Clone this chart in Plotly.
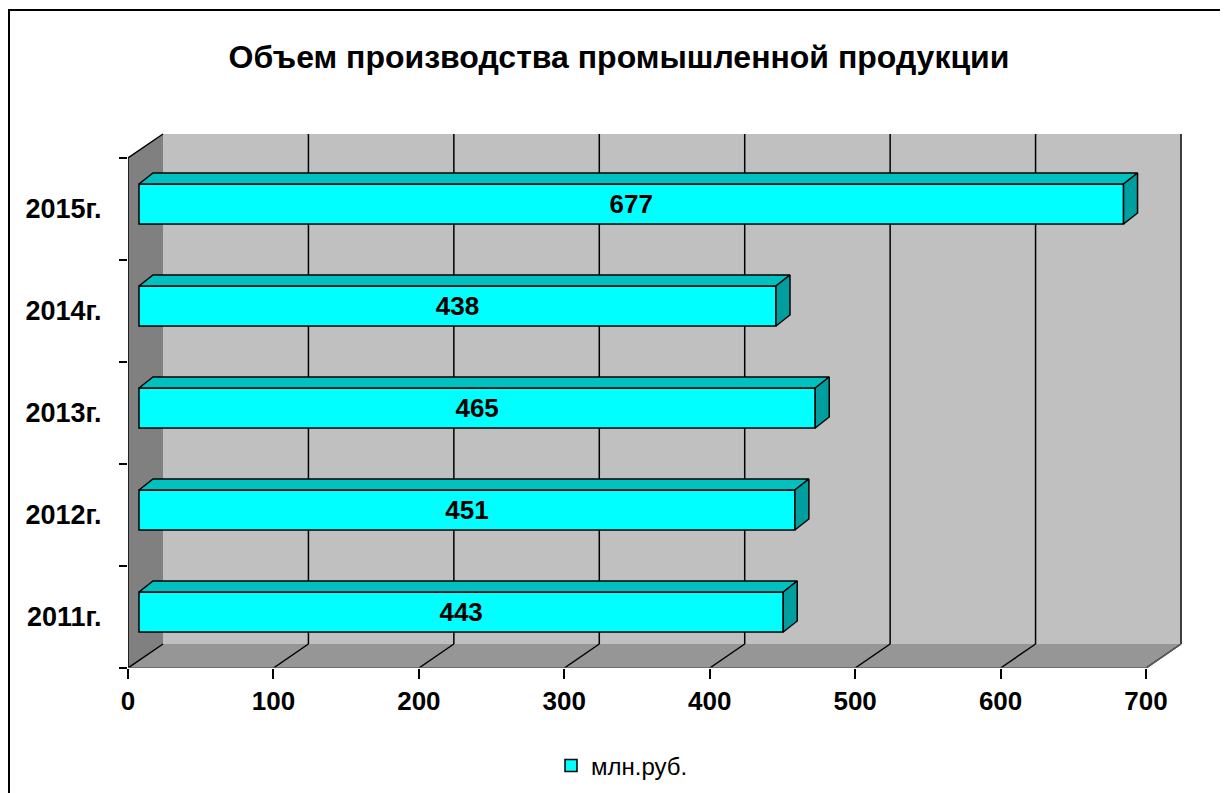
import plotly.graph_objects as go

# ---- data ----
categories = ["2011г.", "2012г.", "2013г.", "2014г.", "2015г."]
values = [443, 451, 465, 438, 677]
series_name = "млн.руб."
x_ticks = [0, 100, 200, 300, 400, 500, 600, 700]
title_text = "Объем производства промышленной продукции"

# ---- geometry (pseudo-3D oblique projection) ----
OFF = 8                        # page body margin
X_MAX = 700
N = len(categories)
PX_PER_UNIT_X = 1018 / 700
PX_PER_CAT = 102
DX = 35 / PX_PER_UNIT_X        # depth shift of back wall in x units
DY = 24 / PX_PER_CAT           # depth shift of back wall in category units
BAR_X0 = 11 / PX_PER_UNIT_X    # bar front face offset
BAR_Y0 = 0.353                 # bar bottom within band
BAR_Y1 = 0.745                 # bar top within band
BDX = 14 / PX_PER_UNIT_X       # bar depth x
BDY = 11 / PX_PER_CAT          # bar depth y

W, H = 1228 - OFF, 793 - OFF
L, T = 128 - OFF, 133 - OFF
R = W - (1182 - OFF)
B = H - (668 - OFF)
pw, ph = W - L - R, H - T - B
x_range = [0, pw / PX_PER_UNIT_X]
y_range = [0, ph / PX_PER_CAT]

FONT = "Arial, 'Liberation Sans', sans-serif"
CYAN = "#00FFFF"
TOP = "#00C0C0"
SIDE = "#009E9E"


def px_x(page_x):
    return (page_x - OFF - L) / pw


def px_y(page_y):
    return (H - B - (page_y - OFF)) / ph


fig = go.Figure()

# front faces as real bars
centers = [i + (BAR_Y0 + BAR_Y1) / 2 for i in range(N)]
fig.add_trace(go.Bar(
    orientation="h",
    x=values, y=centers, base=BAR_X0, width=BAR_Y1 - BAR_Y0,
    marker=dict(color=CYAN, line=dict(color="black", width=1.5)),
    text=[str(v) for v in values], textposition="inside",
    insidetextanchor="middle", constraintext="none",
    textfont=dict(family=FONT, size=26, color="black", weight="bold"),
    name=series_name, showlegend=True, hoverinfo="skip",
))

# top and side faces
for i, v in enumerate(values):
    yb, yt = i + BAR_Y0, i + BAR_Y1
    xe = BAR_X0 + v
    fig.add_trace(go.Scatter(
        x=[BAR_X0, xe, xe + BDX, BAR_X0 + BDX, BAR_X0],
        y=[yt, yt, yt + BDY, yt + BDY, yt],
        fill="toself", fillcolor=TOP, mode="lines",
        line=dict(color="black", width=1.5), showlegend=False, hoverinfo="skip"))
    fig.add_trace(go.Scatter(
        x=[xe, xe, xe + BDX, xe + BDX, xe],
        y=[yb, yt, yt + BDY, yb + BDY, yb],
        fill="toself", fillcolor=SIDE, mode="lines",
        line=dict(color="black", width=1.5), showlegend=False, hoverinfo="skip"))

shapes = []
# back wall
shapes.append(dict(type="rect", xref="x", yref="y", x0=DX, x1=X_MAX + DX, y0=DY, y1=N + DY,
                   fillcolor="#C0C0C0", line=dict(width=0), layer="below"))
# left wall
shapes.append(dict(type="path", xref="x", yref="y",
                   path=f"M 0,0 L 0,{N} L {DX},{N+DY} L {DX},{DY} Z",
                   fillcolor="#808080", line=dict(width=0), layer="below"))
# floor
shapes.append(dict(type="path", xref="x", yref="y",
                   path=f"M 0,0 L {X_MAX},0 L {X_MAX+DX},{DY} L {DX},{DY} Z",
                   fillcolor="#969696", line=dict(width=0), layer="below"))
# gridlines on back wall and floor
for t in x_ticks[1:]:
    shapes.append(dict(type="line", xref="x", yref="y", x0=t + DX, x1=t + DX, y0=DY, y1=N + DY,
                       line=dict(color="black", width=1.5), layer="below"))
    shapes.append(dict(type="line", xref="x", yref="y", x0=t, x1=t + DX, y0=0, y1=DY,
                       line=dict(color="black", width=1.5), layer="below"))
# back wall right edge / floor right edge
shapes.append(dict(type="line", xref="x", yref="y", x0=X_MAX + DX, x1=X_MAX + DX, y0=DY, y1=N + DY,
                   line=dict(color="#404040", width=1.5), layer="below"))
shapes.append(dict(type="line", xref="x", yref="y", x0=X_MAX, x1=X_MAX + DX, y0=0, y1=DY,
                   line=dict(color="#606060", width=1.5), layer="below"))
# left wall edges
shapes.append(dict(type="line", xref="x", yref="y", x0=0, x1=0, y0=0, y1=N,
                   line=dict(color="black", width=1.5), layer="below"))
shapes.append(dict(type="line", xref="x", yref="y", x0=0, x1=DX, y0=N, y1=N + DY,
                   line=dict(color="black", width=1.5), layer="below"))
shapes.append(dict(type="line", xref="x", yref="y", x0=0, x1=DX, y0=0, y1=DY,
                   line=dict(color="black", width=1.5), layer="below"))
# floor front edge (x axis line)
shapes.append(dict(type="line", xref="x", yref="y", x0=0, x1=X_MAX, y0=0, y1=0,
                   line=dict(color="#606060", width=1.5), layer="below"))
# chart border
shapes.append(dict(type="rect", xref="paper", yref="paper",
                   x0=px_x(9), x1=px_x(1221),
                   y0=px_y(830), y1=px_y(10),
                   line=dict(color="black", width=2), fillcolor="rgba(0,0,0,0)", layer="below"))

fig.update_layout(
    width=W, height=H,
    margin=dict(l=L, r=R, t=T, b=B, autoexpand=False),
    paper_bgcolor="white", plot_bgcolor="white",
    shapes=shapes,
    showlegend=True,
    legend=dict(orientation="h", x=px_x(622), xanchor="center",
                y=px_y(766), yanchor="middle",
                font=dict(family=FONT, size=24, color="black"),
                itemwidth=30, bgcolor="rgba(0,0,0,0)"),
    title=dict(text=f"<b>{title_text}</b>", x=px_x(619), xref="paper", xanchor="center",
               y=1 - (57 - OFF) / H, yref="container", yanchor="middle",
               font=dict(family=FONT, size=32, color="black")),
    xaxis=dict(range=x_range, tickvals=x_ticks, ticktext=[str(t) for t in x_ticks],
               ticks="outside", ticklen=10, tickcolor="black", tickwidth=1.5,
               showgrid=False, zeroline=False, showline=False,
               tickfont=dict(family=FONT, size=26, color="black", weight="bold")),
    yaxis=dict(range=y_range, tickvals=[i + 0.5 for i in range(N)], ticktext=categories,
               ticks="outside", ticklen=20, tickcolor="rgba(0,0,0,0)",
               minor=dict(tickvals=list(range(N + 1)), ticks="outside", ticklen=8,
                          tickcolor="black", tickwidth=1.5),
               showgrid=False, zeroline=False, showline=False,
               tickfont=dict(family=FONT, size=27, color="black", weight="bold")),
    barmode="overlay",
)

fig.write_html("out.html")
